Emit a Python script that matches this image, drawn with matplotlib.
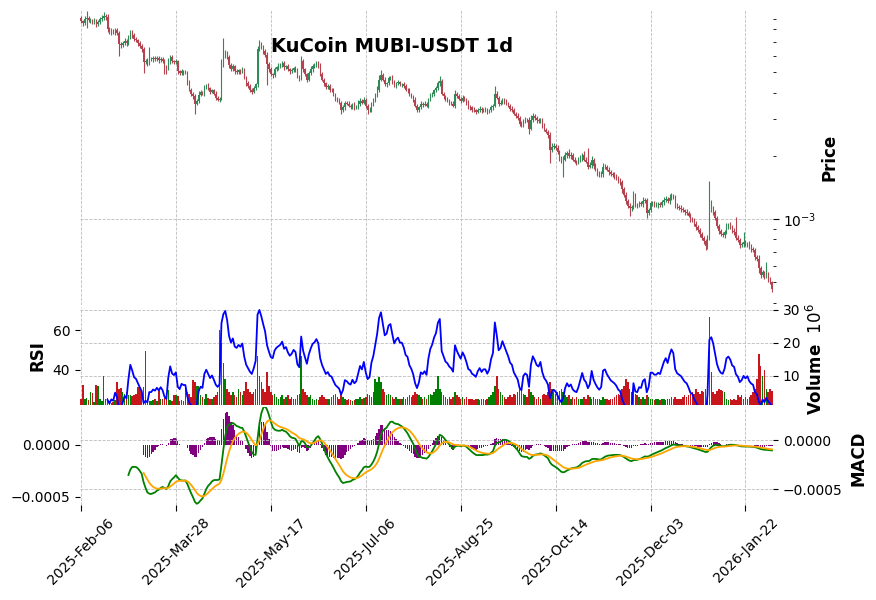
import numpy as np
import pandas as pd
import matplotlib
matplotlib.use("Agg")
import matplotlib.pyplot as plt
from matplotlib.ticker import FuncFormatter, NullFormatter

# ---------------- data ----------------
start_date = "2025-02-06"
title = "KuCoin MUBI-USDT 1d"
first_open_e5 = 910

# daily close, in units of 1e-5 USDT
close_e5 = [
    876, 857, 896, 906, 886, 886, 867, 876, 848, 867,
    896, 906, 926, 916, 802, 776, 785, 776, 793, 768,
    680, 672, 688, 703, 688, 734, 776, 751, 718, 710,
    688, 665, 644, 558, 564, 552, 577, 577, 583, 577,
    583, 571, 577, 564, 534, 522, 564, 590, 564, 558,
    564, 505, 494, 505, 500, 500, 448, 414, 396, 384,
    355, 367, 392, 401, 396, 424, 433, 419, 405, 410,
    396, 379, 371, 375, 546, 596, 616, 590, 540, 516,
    534, 505, 500, 511, 505, 516, 473, 443, 429, 414,
    405, 419, 438, 644, 680, 658, 630, 603, 546, 516,
    489, 484, 516, 528, 534, 540, 552, 528, 534, 516,
    505, 511, 522, 516, 478, 468, 564, 516, 489, 462,
    494, 516, 534, 540, 552, 540, 489, 462, 443, 424,
    429, 414, 410, 392, 375, 367, 359, 332, 340, 359,
    355, 347, 343, 351, 340, 343, 355, 367, 359, 371,
    347, 329, 332, 355, 367, 388, 414, 462, 484, 462,
    438, 443, 468, 473, 453, 433, 443, 448, 438, 438,
    429, 414, 410, 392, 384, 371, 347, 332, 340, 355,
    351, 355, 347, 371, 388, 396, 410, 419, 443, 453,
    396, 384, 371, 367, 359, 355, 347, 396, 384, 375,
    367, 379, 371, 359, 343, 340, 332, 329, 325, 332,
    336, 329, 332, 332, 325, 329, 340, 347, 396, 379,
    355, 359, 371, 363, 355, 347, 336, 332, 318, 311,
    304, 285, 279, 295, 298, 295, 270, 298, 311, 304,
    295, 292, 298, 279, 267, 261, 252, 214, 221, 224,
    219, 209, 196, 188, 192, 202, 207, 200, 202, 192,
    188, 186, 190, 196, 202, 192, 188, 178, 181, 192,
    179, 172, 166, 162, 164, 177, 178, 172, 168, 164,
    162, 160, 157, 152, 150, 139, 130, 122, 116, 113,
    114, 129, 117, 116, 119, 118, 122, 123, 107, 110,
    119, 119, 117, 117, 118, 117, 120, 123, 125, 122,
    126, 129, 127, 117, 114, 113, 112, 110, 108, 107,
    104, 100, 99, 94.6, 91.6, 88.6, 84.7, 81.2, 78.5, 74.3,
    81.2, 110, 112, 108, 101, 92.6, 87.6, 84.7, 83.8, 86.6,
    92.6, 93.6, 91.6, 87.6, 86.6, 81.2, 79.4, 75.1, 75.9, 77.6,
    75.9, 76.7, 73.5, 71.9, 71.1, 65.9, 64.4, 58.3, 54.0, 55.8,
    53.4, 54.6, 51.7, 50.0, 46.7,
]

# upper / lower shadow length, percent beyond the candle body
upper_wick_pct = [
    2, 1, 3, 8, 2, 2, 1, 3, 2, 2,
    2, 3, 5, 2, 3, 2, 3, 2, 2, 3,
    2, 3, 2, 4, 2, 3, 3, 2, 2, 3,
    2, 2, 3, 2, 3, 4, 14, 3, 2, 3,
    2, 3, 2, 2, 3, 2, 4, 3, 2, 2,
    3, 2, 2, 3, 2, 3, 2, 3, 2, 2,
    3, 2, 4, 3, 2, 3, 2, 3, 2, 2,
    2, 3, 2, 2, 6, 22, 4, 3, 2, 3,
    3, 2, 3, 2, 2, 3, 2, 2, 3, 2,
    2, 3, 2, 4, 5, 3, 2, 3, 4, 2,
    3, 2, 3, 2, 4, 3, 2, 3, 2, 3,
    2, 3, 2, 3, 2, 2, 6, 3, 2, 2,
    3, 4, 3, 2, 3, 2, 2, 3, 2, 2,
    3, 2, 2, 3, 2, 2, 3, 2, 3, 2,
    2, 3, 2, 2, 3, 2, 4, 3, 2, 3,
    2, 2, 3, 2, 3, 3, 4, 5, 6, 2,
    3, 2, 3, 2, 3, 2, 2, 3, 2, 2,
    3, 2, 2, 3, 2, 2, 3, 2, 2, 3,
    2, 3, 2, 2, 3, 2, 2, 3, 3, 6,
    3, 2, 2, 3, 2, 2, 3, 4, 2, 3,
    2, 3, 2, 2, 3, 2, 2, 3, 2, 2,
    3, 2, 2, 3, 2, 2, 3, 2, 9, 3,
    2, 3, 2, 2, 3, 2, 2, 3, 2, 2,
    3, 2, 3, 2, 3, 2, 4, 5, 3, 2,
    2, 3, 2, 2, 3, 2, 2, 3, 4, 3,
    2, 3, 2, 2, 4, 3, 2, 4, 3, 2,
    3, 2, 4, 3, 2, 5, 3, 16, 3, 4,
    2, 3, 2, 2, 3, 5, 3, 2, 3, 2,
    2, 3, 2, 2, 3, 2, 2, 3, 2, 3,
    2, 5, 3, 2, 3, 2, 4, 3, 2, 3,
    3, 2, 2, 3, 2, 2, 3, 4, 3, 2,
    4, 3, 2, 3, 2, 2, 3, 2, 2, 3,
    2, 3, 2, 2, 3, 2, 2, 3, 2, 2,
    4, 38, 10, 3, 2, 3, 2, 2, 3, 2,
    3, 2, 3, 2, 3, 18, 3, 2, 3, 12,
    3, 2, 3, 4, 2, 3, 2, 5, 3, 3,
    2, 15, 3, 2, 2,
]
lower_wick_pct = [
    2, 3, 2, 9, 2, 3, 2, 2, 3, 2,
    2, 2, 2, 3, 3, 2, 3, 2, 3, 2,
    12, 3, 2, 2, 3, 2, 2, 3, 2, 2,
    3, 2, 3, 11, 2, 3, 2, 2, 3, 2,
    2, 3, 2, 2, 8, 6, 2, 3, 2, 2,
    2, 3, 2, 2, 3, 2, 3, 2, 3, 3,
    11, 2, 3, 2, 2, 3, 2, 2, 3, 2,
    2, 3, 2, 3, 2, 3, 2, 2, 3, 2,
    2, 3, 2, 2, 3, 2, 2, 3, 2, 3,
    3, 2, 2, 3, 2, 2, 3, 2, 20, 3,
    2, 3, 2, 2, 3, 2, 2, 3, 2, 2,
    3, 2, 2, 3, 2, 3, 2, 3, 2, 3,
    2, 2, 3, 2, 2, 3, 2, 2, 3, 2,
    2, 3, 2, 2, 3, 2, 2, 5, 2, 3,
    2, 2, 3, 2, 3, 2, 2, 3, 2, 2,
    3, 4, 2, 2, 3, 2, 2, 3, 2, 2,
    2, 3, 2, 2, 3, 2, 3, 2, 2, 3,
    2, 2, 3, 2, 2, 3, 2, 3, 2, 2,
    3, 2, 2, 3, 2, 2, 3, 2, 2, 3,
    2, 3, 2, 2, 3, 2, 2, 3, 2, 2,
    3, 2, 2, 3, 2, 3, 2, 2, 3, 2,
    2, 3, 2, 2, 3, 2, 2, 3, 2, 2,
    3, 2, 2, 3, 2, 2, 3, 2, 2, 3,
    2, 3, 2, 2, 3, 2, 6, 2, 3, 2,
    3, 2, 2, 3, 2, 2, 3, 14, 3, 2,
    3, 2, 3, 2, 16, 2, 3, 2, 3, 2,
    2, 3, 2, 2, 3, 2, 2, 3, 2, 3,
    3, 2, 3, 2, 2, 3, 2, 2, 3, 2,
    2, 3, 2, 2, 3, 4, 2, 3, 3, 8,
    3, 2, 2, 3, 2, 2, 3, 2, 5, 2,
    2, 3, 2, 2, 3, 2, 2, 3, 2, 2,
    3, 2, 2, 3, 2, 2, 3, 2, 3, 2,
    2, 3, 2, 2, 3, 2, 3, 2, 3, 4,
    3, 2, 2, 3, 2, 2, 3, 2, 2, 3,
    2, 3, 2, 2, 3, 2, 2, 3, 2, 3,
    2, 3, 2, 3, 2, 3, 2, 5, 3, 2,
    3, 2, 3, 2, 4,
]

# daily volume, millions
volume_m = [
    2.9, 7.2, 3.0, 3.1, 2.5, 5.0, 4.8, 2.0, 7.2, 7.0,
    3.0, 2.2, 10.0, 3.0, 3.2, 2.4, 1.8, 2.0, 2.5, 8.0,
    6.0, 6.2, 5.0, 4.5, 5.2, 4.0, 4.2, 3.8, 4.0, 4.5,
    6.6, 6.4, 5.0, 6.5, 17.4, 3.0, 2.3, 2.2, 2.5, 3.0,
    2.4, 5.7, 3.0, 2.8, 3.2, 3.0, 5.7, 2.5, 2.4, 4.0,
    4.0, 3.8, 2.3, 2.5, 2.3, 7.0, 5.0, 4.5, 3.5, 8.8,
    8.0, 7.0, 7.0, 4.0, 3.5, 3.0, 4.5, 3.2, 2.8, 3.0,
    3.5, 4.0, 5.0, 24.0, 20.0, 14.0, 9.0, 6.0, 5.0, 4.0,
    5.0, 4.0, 3.5, 6.0, 5.0, 4.0, 5.5, 8.0, 6.0, 5.0,
    4.5, 5.0, 6.0, 16.0, 10.0, 8.0, 6.0, 5.0, 11.0, 7.0,
    5.0, 4.0, 4.5, 3.5, 3.0, 3.5, 4.0, 3.0, 3.5, 4.0,
    3.0, 3.5, 3.0, 2.8, 4.0, 4.5, 16.0, 6.0, 5.0, 4.0,
    3.5, 4.0, 3.0, 2.5, 3.0, 2.5, 3.5, 4.0, 3.5, 3.0,
    2.8, 3.0, 3.5, 4.0, 4.5, 3.5, 3.0, 4.0, 3.5, 3.0,
    2.5, 2.8, 2.5, 2.2, 2.5, 3.0, 2.8, 3.5, 3.0, 3.2,
    3.5, 4.5, 4.0, 3.5, 5.0, 9.0, 8.0, 9.5, 8.0, 6.0,
    5.0, 4.0, 4.5, 4.0, 3.5, 3.0, 3.5, 3.0, 2.8, 3.0,
    3.5, 3.0, 3.5, 4.0, 3.5, 4.0, 5.0, 4.5, 4.0, 3.5,
    3.0, 3.5, 3.0, 4.0, 4.5, 4.0, 5.0, 6.0, 10.0, 6.0,
    5.0, 4.0, 3.5, 3.0, 3.5, 3.0, 3.5, 5.0, 4.0, 3.5,
    3.0, 3.5, 3.0, 3.5, 3.0, 2.8, 3.0, 2.5, 2.8, 3.0,
    2.5, 2.8, 3.0, 2.5, 3.0, 3.5, 4.0, 5.0, 7.0, 10.0,
    6.0, 5.0, 4.0, 3.5, 3.0, 3.5, 4.0, 3.5, 4.5, 4.0,
    5.0, 6.0, 5.5, 4.5, 4.0, 3.5, 6.0, 5.0, 4.0, 3.5,
    3.0, 3.5, 3.0, 4.0, 4.5, 4.0, 5.0, 8.0, 6.0, 5.0,
    4.5, 5.0, 5.5, 6.0, 5.0, 4.0, 3.5, 4.0, 3.0, 3.5,
    3.0, 3.5, 3.0, 2.8, 3.0, 3.5, 3.0, 4.0, 3.5, 3.0,
    3.5, 3.0, 2.8, 3.0, 2.5, 3.5, 3.0, 2.8, 2.5, 3.0,
    3.0, 3.5, 4.0, 4.5, 4.0, 6.0, 7.0, 9.0, 8.0, 6.0,
    5.0, 6.0, 4.5, 4.0, 3.5, 3.0, 3.5, 3.0, 4.0, 3.5,
    3.0, 2.8, 2.5, 2.8, 3.0, 2.5, 2.8, 3.0, 2.5, 2.8,
    3.0, 3.5, 3.0, 3.5, 3.0, 2.8, 3.0, 3.5, 4.0, 3.5,
    4.0, 4.5, 5.0, 4.5, 6.0, 5.0, 4.5, 5.5, 5.0, 6.0,
    8.0, 28.0, 11.0, 5.0, 4.5, 5.5, 6.0, 5.7, 5.5, 5.0,
    3.0, 2.5, 2.8, 2.5, 3.0, 2.5, 4.0, 3.5, 4.0, 3.0,
    3.5, 3.0, 3.5, 4.0, 5.0, 6.0, 9.0, 16.5, 13.0, 9.8,
    11.8, 6.0, 5.0, 6.0, 5.5,
]

# ---------------- derived series ----------------
close = np.array(close_e5, dtype=float) * 1e-5
n = len(close)
open_ = np.concatenate([[first_open_e5 * 1e-5], close[:-1]])
body_hi = np.maximum(open_, close)
body_lo = np.minimum(open_, close)
high = body_hi * (1 + np.array(upper_wick_pct) / 100.0)
low = body_lo * (1 - np.array(lower_wick_pct) / 100.0)
volume = np.array(volume_m) * 1e6
dates = pd.date_range(start_date, periods=n, freq="D")
x = np.arange(n)

s = pd.Series(close)
delta = s.diff()
gain = delta.clip(lower=0)
loss = -delta.clip(upper=0)
avg_gain = gain.ewm(alpha=1 / 14, adjust=False, min_periods=14).mean()
avg_loss = loss.ewm(alpha=1 / 14, adjust=False, min_periods=14).mean()
rsi = 100 - 100 / (1 + avg_gain / avg_loss)

ema12 = s.ewm(span=12, min_periods=12).mean()
ema26 = s.ewm(span=26, min_periods=26).mean()
macd = ema12 - ema26
signal = macd.ewm(span=9, min_periods=9).mean()
hist = macd - signal

# ---------------- styling ----------------
UP, DOWN = "#2e8b57", "#b5434f"
VUP, VDOWN = "#008000", "#c8161d"
GRID = dict(color="#bdbdbd", linestyle="--", linewidth=0.6)
W, H = 876, 600
L, R = 80, 773


def rect(top, bottom):
    return [L / W, 1 - bottom / H, (R - L) / W, (bottom - top) / H]


fig = plt.figure(figsize=(W / 100, H / 100), dpi=100)
ax_p = fig.add_axes(rect(10, 305))
ax_v = fig.add_axes(rect(307, 405), sharex=ax_p)
ax_m = fig.add_axes(rect(407, 505), sharex=ax_p)
ax_r = ax_v.twinx()
ax_h = ax_m.twinx()

for a in (ax_p, ax_v, ax_m, ax_r, ax_h):
    for sp in a.spines.values():
        sp.set_visible(False)
    a.tick_params(labelsize=10)

# price candles
up = close >= open_
cols = np.where(up, UP, DOWN)
ax_p.vlines(x, low, high, colors=cols, linewidth=0.8, zorder=2)
ax_p.bar(x, body_hi - body_lo, bottom=body_lo, width=0.65, color=cols,
         linewidth=0, zorder=3)
ax_p.set_yscale("log")
ax_p.set_ylim(3.9e-4, 9.9e-3)
ax_p.yaxis.tick_right()
ax_p.yaxis.set_minor_formatter(NullFormatter())
ax_p.tick_params(axis="y", which="major", length=4)
ax_p.tick_params(axis="y", which="minor", length=2.5)
ax_p.set_ylabel("Price", fontsize=12, fontweight="bold")
ax_p.yaxis.set_label_position("right")
ax_p.yaxis.set_label_coords(1.069, 0.5)
ax_p.grid(True, which="major", **GRID)
ax_p.set_axisbelow(True)

# volume (right) + RSI (left)
vcols = np.where(up, VUP, VDOWN)
ax_v.bar(x, volume, width=0.8, color=vcols, linewidth=0)
ax_v.set_ylim(1.1e6, 30.9e6)
ax_v.set_yticks([1e7, 2e7, 3e7])
ax_v.yaxis.set_major_formatter(FuncFormatter(lambda v, p: f"{v / 1e6:g}"))
ax_v.yaxis.tick_right()
ax_v.yaxis.set_label_position("right")
ax_v.set_ylabel("Volume  $10^{6}$", fontsize=12, fontweight="bold")
ax_v.yaxis.set_label_coords(1.0476, 0.47)
ax_v.grid(True, **GRID)
ax_v.set_axisbelow(True)

ax_r.plot(x, rsi, color="#0000ff", linewidth=1.3)
ax_r.set_ylim(22, 71.8)
ax_r.set_yticks([40, 60])
ax_r.yaxis.tick_left()
ax_r.yaxis.set_label_position("left")
ax_r.set_ylabel("RSI", fontsize=12, fontweight="bold")
ax_r.yaxis.set_label_coords(-0.048, 0.5)

# MACD panel: lines on the right axis, histogram on the left axis
fmt4 = FuncFormatter(lambda v, p: f"{v:.4f}".replace("-", "\u2212"))
ax_h.bar(x, hist, width=0.7, color="#800080", linewidth=0)
ax_h.set_ylim(-0.000577, 0.000365)
ax_h.set_yticks([-0.0005, 0.0])
ax_h.yaxis.set_major_formatter(fmt4)
ax_h.yaxis.tick_left()

ax_m.set_zorder(ax_h.get_zorder() + 1)
ax_m.patch.set_visible(False)
ax_m.plot(x, macd, color="#008000", linewidth=1.3)
ax_m.plot(x, signal, color="#ffa500", linewidth=1.3)
ax_m.set_ylim(-0.000663, 0.000337)
ax_m.set_yticks([-0.0005, 0.0])
ax_m.yaxis.set_major_formatter(fmt4)
ax_m.yaxis.tick_right()
ax_m.yaxis.set_label_position("right")
ax_m.set_ylabel("MACD", fontsize=12, fontweight="bold")
ax_m.yaxis.set_label_coords(1.111, 0.48)
ax_m.grid(True, **GRID)

# x axis
ax_p.set_xlim(-0.5, n - 0.5)
tick_idx = list(range(0, n, 50))
ax_m.set_xticks(tick_idx)
ax_m.set_xticklabels([dates[i].strftime("%Y-%b-%d") for i in tick_idx],
                     rotation=45, ha="center")
ax_m.tick_params(axis="x", length=4)
for a in (ax_p, ax_v):
    a.tick_params(axis="x", length=0, labelbottom=False)
    a.grid(True, axis="x", **GRID)

fig.text(392 / W, 1 - 47 / H, title, fontsize=14, fontweight="bold",
         ha="center", va="center")

fig.savefig("out.png", dpi=100)
